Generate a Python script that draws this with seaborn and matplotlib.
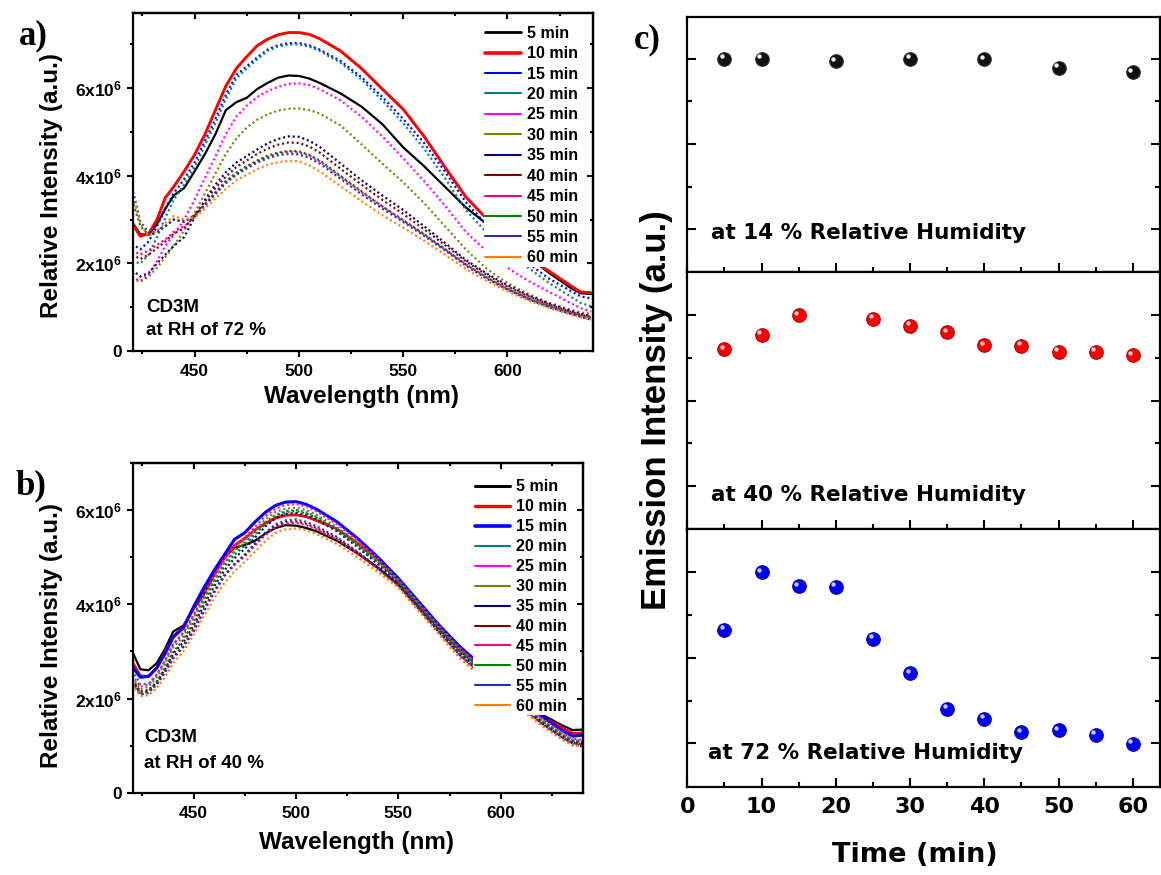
import numpy as np
import matplotlib
matplotlib.use("Agg")
import matplotlib.pyplot as plt
import seaborn as sns
from matplotlib.lines import Line2D
from matplotlib.ticker import MultipleLocator, FixedLocator, FuncFormatter
from matplotlib.transforms import ScaledTranslation

# ---------------- data ----------------
wavelength_nm = [420, 424, 428, 432, 436, 440, 445, 450, 455, 460, 465, 470, 475, 480, 485,
                 490, 495, 500, 505, 510, 520, 530, 540, 550, 560, 570, 580, 590, 600, 610,
                 620, 630, 635, 640]
time_labels = ['5 min', '10 min', '15 min', '20 min', '25 min', '30 min',
               '35 min', '40 min', '45 min', '50 min', '55 min', '60 min']
series_colors = ['#000000', '#FF0000', '#0000FF', '#008080', '#FF00FF', '#808000',
                 '#000080', '#800000', '#FF0080', '#008000', '#2B2BB8', '#FF8000']

# panel a: RH 72 %  (x 1e6)
rh72_5min = [2.95, 2.66, 2.66, 2.9, 3.25, 3.55, 3.72, 4.1, 4.5, 4.95, 5.5, 5.68, 5.78, 5.98, 6.12, 6.24, 6.29, 6.28, 6.22, 6.12, 5.88, 5.58, 5.18, 4.65, 4.22, 3.75, 3.28, 2.9, 2.52, 2.15, 1.78, 1.45, 1.32, 1.3]
rh72_10min = [2.92, 2.62, 2.68, 3.0, 3.5, 3.75, 4.1, 4.48, 4.95, 5.5, 6.05, 6.45, 6.72, 6.97, 7.12, 7.22, 7.27, 7.27, 7.23, 7.13, 6.85, 6.45, 5.98, 5.52, 4.9, 4.2, 3.52, 3.02, 2.55, 2.12, 1.82, 1.5, 1.35, 1.33]
rh72_15min = [2.45, 2.32, 2.5, 2.85, 3.25, 3.6, 3.92, 4.3, 4.8, 5.3, 5.85, 6.3, 6.5, 6.7, 6.88, 6.98, 7.03, 7.03, 6.98, 6.88, 6.62, 6.25, 5.8, 5.3, 4.75, 4.1, 3.4, 2.88, 2.4, 2.0, 1.65, 1.38, 1.25, 1.2]
rh72_20min = [2.05, 2.0, 2.2, 2.6, 3.05, 3.45, 3.8, 4.2, 4.7, 5.2, 5.75, 6.22, 6.45, 6.66, 6.85, 6.95, 7.0, 7.0, 6.95, 6.85, 6.58, 6.2, 5.72, 5.2, 4.62, 3.95, 3.22, 2.7, 2.25, 1.9, 1.55, 1.25, 1.1, 1.02]
rh72_25min = [1.7, 1.6, 1.75, 2.05, 2.4, 2.65, 3.0, 3.45, 3.95, 4.45, 4.95, 5.35, 5.6, 5.8, 5.93, 6.03, 6.1, 6.11, 6.07, 5.98, 5.72, 5.35, 4.9, 4.4, 3.88, 3.32, 2.72, 2.28, 1.9, 1.6, 1.35, 1.1, 0.98, 0.9]
rh72_30min = [1.65, 1.58, 1.7, 1.9, 2.15, 2.4, 2.75, 3.15, 3.6, 4.05, 4.5, 4.85, 5.1, 5.28, 5.4, 5.49, 5.53, 5.54, 5.5, 5.42, 5.15, 4.72, 4.28, 3.85, 3.38, 2.85, 2.32, 1.88, 1.55, 1.3, 1.1, 0.95, 0.88, 0.85]
rh72_35min = [1.85, 1.7, 1.78, 2.0, 2.2, 2.4, 2.6, 3.05, 3.45, 3.8, 4.08, 4.3, 4.45, 4.6, 4.74, 4.84, 4.9, 4.89, 4.8, 4.66, 4.28, 3.9, 3.55, 3.22, 2.85, 2.47, 2.08, 1.77, 1.5, 1.27, 1.08, 0.92, 0.85, 0.8]
rh72_40min = [2.2, 2.1, 2.2, 2.35, 2.5, 2.68, 2.8, 3.1, 3.42, 3.72, 3.98, 4.2, 4.35, 4.5, 4.62, 4.71, 4.76, 4.75, 4.67, 4.53, 4.16, 3.8, 3.45, 3.13, 2.78, 2.42, 2.05, 1.74, 1.47, 1.25, 1.06, 0.9, 0.83, 0.78]
rh72_45min = [2.3, 2.2, 2.3, 2.42, 2.55, 2.72, 2.85, 3.05, 3.35, 3.62, 3.87, 4.05, 4.2, 4.33, 4.44, 4.51, 4.55, 4.54, 4.46, 4.33, 3.98, 3.63, 3.3, 2.98, 2.66, 2.32, 1.98, 1.68, 1.42, 1.2, 1.03, 0.88, 0.82, 0.77]
rh72_50min = [3.45, 2.85, 2.65, 2.7, 2.85, 3.0, 2.95, 3.1, 3.35, 3.62, 3.88, 4.07, 4.22, 4.35, 4.46, 4.53, 4.57, 4.56, 4.48, 4.35, 4.0, 3.65, 3.3, 2.99, 2.67, 2.33, 1.98, 1.68, 1.42, 1.2, 1.02, 0.87, 0.8, 0.76]
rh72_55min = [3.75, 2.95, 2.7, 2.72, 2.85, 3.0, 2.95, 3.08, 3.32, 3.58, 3.83, 4.02, 4.17, 4.3, 4.4, 4.47, 4.5, 4.49, 4.41, 4.28, 3.93, 3.58, 3.25, 2.95, 2.63, 2.3, 1.95, 1.65, 1.4, 1.18, 1.0, 0.85, 0.78, 0.72]
rh72_60min = [3.62, 2.9, 2.62, 2.75, 2.92, 3.08, 3.0, 3.05, 3.25, 3.48, 3.7, 3.9, 4.02, 4.15, 4.25, 4.31, 4.34, 4.33, 4.24, 4.1, 3.76, 3.42, 3.1, 2.82, 2.52, 2.2, 1.87, 1.6, 1.36, 1.15, 0.98, 0.84, 0.77, 0.72]

# panel b: RH 40 %  (x 1e6)
rh40_5min = [3.0, 2.62, 2.6, 2.75, 3.05, 3.42, 3.55, 3.9, 4.22, 4.62, 5.0, 5.2, 5.26, 5.35, 5.5, 5.62, 5.68, 5.67, 5.62, 5.55, 5.35, 5.08, 4.78, 4.42, 3.95, 3.48, 3.02, 2.64, 2.28, 1.95, 1.66, 1.43, 1.33, 1.34]
rh40_10min = [2.78, 2.48, 2.47, 2.65, 2.98, 3.32, 3.52, 3.92, 4.3, 4.65, 4.98, 5.25, 5.4, 5.58, 5.72, 5.83, 5.89, 5.9, 5.86, 5.78, 5.6, 5.3, 4.95, 4.5, 4.02, 3.52, 3.05, 2.66, 2.3, 1.95, 1.62, 1.38, 1.26, 1.27]
rh40_15min = [2.68, 2.45, 2.47, 2.65, 2.95, 3.3, 3.5, 3.95, 4.35, 4.72, 5.05, 5.38, 5.52, 5.75, 5.95, 6.1, 6.17, 6.18, 6.12, 6.02, 5.75, 5.4, 5.0, 4.55, 4.05, 3.55, 3.1, 2.72, 2.35, 1.98, 1.62, 1.32, 1.2, 1.22]
rh40_20min = [2.6, 2.3, 2.32, 2.5, 2.8, 3.15, 3.38, 3.75, 4.15, 4.52, 4.86, 5.12, 5.3, 5.52, 5.74, 5.9, 5.98, 6.0, 5.95, 5.86, 5.6, 5.27, 4.9, 4.48, 3.98, 3.48, 3.02, 2.63, 2.25, 1.9, 1.54, 1.24, 1.12, 1.09]
rh40_25min = [2.5, 2.25, 2.3, 2.5, 2.8, 3.15, 3.4, 3.78, 4.2, 4.6, 4.95, 5.25, 5.42, 5.65, 5.87, 6.03, 6.11, 6.13, 6.08, 5.97, 5.7, 5.36, 4.97, 4.53, 4.03, 3.53, 3.07, 2.68, 2.3, 1.94, 1.58, 1.28, 1.15, 1.12]
rh40_30min = [2.45, 2.2, 2.25, 2.45, 2.75, 3.08, 3.32, 3.7, 4.12, 4.52, 4.88, 5.15, 5.35, 5.58, 5.8, 5.96, 6.03, 6.05, 6.0, 5.9, 5.64, 5.3, 4.92, 4.5, 4.0, 3.5, 3.04, 2.65, 2.27, 1.91, 1.55, 1.25, 1.13, 1.1]
rh40_35min = [2.4, 2.15, 2.18, 2.35, 2.62, 2.95, 3.2, 3.55, 3.98, 4.38, 4.72, 4.98, 5.18, 5.42, 5.65, 5.83, 5.92, 5.94, 5.89, 5.8, 5.55, 5.22, 4.85, 4.45, 3.95, 3.45, 2.98, 2.59, 2.21, 1.86, 1.5, 1.2, 1.08, 1.05]
rh40_40min = [2.38, 2.12, 2.15, 2.32, 2.58, 2.88, 3.12, 3.48, 3.9, 4.28, 4.62, 4.86, 5.05, 5.28, 5.5, 5.67, 5.74, 5.76, 5.71, 5.62, 5.4, 5.1, 4.76, 4.4, 3.9, 3.4, 2.92, 2.54, 2.17, 1.82, 1.47, 1.17, 1.05, 1.02]
rh40_45min = [2.36, 2.12, 2.14, 2.3, 2.56, 2.86, 3.1, 3.46, 3.88, 4.26, 4.6, 4.84, 5.02, 5.25, 5.47, 5.64, 5.71, 5.73, 5.68, 5.59, 5.37, 5.08, 4.74, 4.38, 3.88, 3.38, 2.9, 2.52, 2.15, 1.8, 1.45, 1.15, 1.03, 1.0]
rh40_50min = [2.35, 2.1, 2.15, 2.35, 2.65, 2.98, 3.25, 3.62, 4.05, 4.45, 4.8, 5.05, 5.25, 5.48, 5.7, 5.87, 5.96, 5.98, 5.93, 5.84, 5.58, 5.25, 4.88, 4.47, 3.97, 3.47, 3.0, 2.61, 2.23, 1.88, 1.52, 1.22, 1.1, 1.07]
rh40_55min = [2.3, 2.08, 2.12, 2.3, 2.55, 2.85, 3.1, 3.42, 3.85, 4.25, 4.6, 4.85, 5.05, 5.3, 5.52, 5.7, 5.78, 5.8, 5.75, 5.66, 5.43, 5.12, 4.78, 4.42, 3.92, 3.42, 2.94, 2.56, 2.18, 1.83, 1.48, 1.18, 1.06, 1.03]
rh40_60min = [2.3, 2.05, 2.07, 2.22, 2.45, 2.75, 3.0, 3.35, 3.75, 4.12, 4.45, 4.7, 4.9, 5.12, 5.34, 5.52, 5.59, 5.61, 5.57, 5.49, 5.28, 5.0, 4.68, 4.35, 3.85, 3.35, 2.85, 2.47, 2.1, 1.76, 1.42, 1.12, 1.0, 0.98]

# panel c: emission intensity (a.u.) vs time
time_rh14 = [5, 10, 20, 30, 40, 50, 60]
emission_rh14 = [3.0, 3.0, 2.97, 3.0, 2.99, 2.89, 2.84]
time_rh40 = [5, 10, 15, 25, 30, 35, 40, 45, 50, 55, 60]
emission_rh40 = [2.6, 2.77, 3.0, 2.96, 2.88, 2.8, 2.65, 2.64, 2.57, 2.57, 2.53]
time_rh72 = [5, 10, 15, 20, 25, 30, 35, 40, 45, 50, 55, 60]
emission_rh72 = [2.33, 3.0, 2.84, 2.83, 2.22, 1.82, 1.4, 1.29, 1.13, 1.15, 1.1, 0.99]

rh72_spectra = [rh72_5min, rh72_10min, rh72_15min, rh72_20min, rh72_25min, rh72_30min,
                rh72_35min, rh72_40min, rh72_45min, rh72_50min, rh72_55min, rh72_60min]
rh40_spectra = [rh40_5min, rh40_10min, rh40_15min, rh40_20min, rh40_25min, rh40_30min,
                rh40_35min, rh40_40min, rh40_45min, rh40_50min, rh40_55min, rh40_60min]

# ---------------- style ----------------
sns.set_theme(style="ticks")
plt.rcParams['font.family'] = ['Liberation Sans', 'DejaVu Sans']
plt.rcParams['font.weight'] = 'bold'
for key in ['text.color', 'axes.labelcolor', 'xtick.color', 'ytick.color', 'axes.edgecolor']:
    plt.rcParams[key] = 'black'
plt.rcParams['mathtext.fontset'] = 'custom'
plt.rcParams['mathtext.rm'] = 'Liberation Sans:bold'
plt.rcParams['mathtext.bf'] = 'Liberation Sans:bold'
plt.rcParams['mathtext.it'] = 'Liberation Sans:bold'

W, H = 1161, 875
fig = plt.figure(figsize=(W / 100, H / 100), dpi=100)
fig.patch.set_facecolor('white')


def px_axes(left, top, right, bottom):
    return fig.add_axes([left / W, 1 - bottom / H, (right - left) / W, (bottom - top) / H])


def ftext(x, y, s, **kw):
    fig.text(x / W, 1 - y / H, s, **kw)


def sci_fmt(v, pos):
    if abs(v) < 1:
        return '0'
    return '%dx10$^{%d}$' % (int(round(v / 1e6)), 6)


def style_spectrum(ax, xlim, ymax):
    ax.set_xlim(*xlim)
    ax.set_ylim(0, ymax)
    ax.xaxis.set_major_locator(MultipleLocator(50))
    ax.xaxis.set_minor_locator(MultipleLocator(25))
    ax.yaxis.set_major_locator(MultipleLocator(2e6))
    ax.yaxis.set_minor_locator(MultipleLocator(1e6))
    ax.yaxis.set_major_formatter(FuncFormatter(sci_fmt))
    ax.set_xlabel('')
    ax.set_ylabel('')
    ax.tick_params(which='both', direction='out', top=False, right=False, width=1.5,
                   labelsize=12.5, colors='black')
    ax.tick_params(axis='x', which='major', length=4.5, pad=5)
    ax.tick_params(axis='y', which='major', length=4.5, pad=3)
    ax.tick_params(which='minor', length=2.5)
    for s in ax.spines.values():
        s.set_linewidth(1.6)
        s.set_color('black')
        s.set_visible(True)
    secx = ax.secondary_xaxis('top')
    secx.xaxis.set_major_locator(MultipleLocator(50))
    secx.xaxis.set_minor_locator(MultipleLocator(25))
    secx.tick_params(which='both', direction='in', labeltop=False, width=1.5, length=4.5)
    secx.tick_params(which='minor', length=2.5)
    secx.spines['top'].set_linewidth(1.6)
    secy = ax.secondary_yaxis('right')
    secy.yaxis.set_major_locator(MultipleLocator(2e6))
    secy.yaxis.set_minor_locator(MultipleLocator(1e6))
    secy.tick_params(which='both', direction='in', labelright=False, width=1.5, length=4.5)
    secy.tick_params(which='minor', length=2.5)
    secy.spines['right'].set_linewidth(1.6)


def draw_spectra(ax, spectra, n_solid, solid_widths, legend_widths, bbox, lspacing):
    x = np.array(wavelength_nm, dtype=float)
    for i, vals in enumerate(spectra):
        y = np.array(vals) * 1e6
        if i < n_solid:
            sns.lineplot(x=x, y=y, ax=ax, color=series_colors[i], lw=solid_widths[i],
                         linestyle='-', estimator=None, sort=False, legend=False,
                         zorder=2 + i * 0.01)
        else:
            sns.lineplot(x=x, y=y, ax=ax, color=series_colors[i], lw=1.6,
                         linestyle=(0, (0.9, 1.3)), estimator=None, sort=False,
                         legend=False, zorder=2 + i * 0.01)
    handles = [Line2D([], [], color=series_colors[i], lw=legend_widths[i])
               for i in range(len(spectra))]
    leg = ax.legend(handles, time_labels, loc='upper right', bbox_to_anchor=bbox,
                    frameon=True, facecolor='white', edgecolor='none', framealpha=1,
                    fontsize=11.5, labelspacing=lspacing, handlelength=2.2,
                    handletextpad=0.4, borderpad=0.1, borderaxespad=0.0)
    leg.get_frame().set_linewidth(0)
    for t in leg.get_texts():
        t.set_fontweight('bold')
        t.set_color('black')


# ---------------- panel a ----------------
ax_a = px_axes(132.6, 13.3, 592.6, 351)
draw_spectra(ax_a, rh72_spectra, 2, [1.6, 2.1], [2.0, 2.6] + [1.5] * 10,
             (0.972, 0.968), 0.34)
style_spectrum(ax_a, (420.3, 640.8), 7.71e6)
ax_a.text(0.03, 0.13, 'CD3M', transform=ax_a.transAxes, fontsize=13.5, fontweight='bold',
          va='center', ha='left')
ax_a.text(0.03, 0.06, 'at RH of 72 %', transform=ax_a.transAxes, fontsize=13.5,
          fontweight='bold', va='center', ha='left')

# ---------------- panel b ----------------
ax_b = px_axes(132.6, 463, 582.9, 792.7)
draw_spectra(ax_b, rh40_spectra, 3, [1.6, 2.0, 2.2], [2.2, 2.4, 2.6] + [1.5] * 9,
             (0.969, 0.955), 0.31)
style_spectrum(ax_b, (420.2, 640.1), 7.0e6)
ax_b.text(0.025, 0.167, 'CD3M', transform=ax_b.transAxes, fontsize=13.5, fontweight='bold',
          va='center', ha='left')
ax_b.text(0.025, 0.09, 'at RH of 40 %', transform=ax_b.transAxes, fontsize=13.5,
          fontweight='bold', va='center', ha='left')

# axis labels a/b
ftext(52, 186, 'Relative Intensity (a.u.)', rotation=90, fontsize=17.5, fontweight='bold',
      ha='center', va='center')
ftext(362, 397, 'Wavelength (nm)', fontsize=17.5, fontweight='bold', ha='center', va='center')
ftext(52, 636, 'Relative Intensity (a.u.)', rotation=90, fontsize=17.5, fontweight='bold',
      ha='center', va='center')
ftext(357, 843, 'Wavelength (nm)', fontsize=17.5, fontweight='bold', ha='center', va='center')

# ---------------- panel c ----------------
ax_c1 = px_axes(687.3, 17, 1160.3, 272)
ax_c2 = px_axes(687.3, 272, 1160.3, 528.5)
ax_c3 = px_axes(687.3, 528.5, 1160.3, 787)

panels_c = [
    (ax_c1, time_rh14, emission_rh14, (0.501, 3.487), '#111111', '#2a2a2a', '#f2f2f2',
     'at 14 % Relative Humidity', 0.05, 0.153),
    (ax_c2, time_rh40, emission_rh40, (0.504, 3.507), '#ff0000', '#b00000', '#ffc8c8',
     'at 40 % Relative Humidity', 0.05, 0.131),
    (ax_c3, time_rh72, emission_rh72, (0.488, 3.515), '#0000ff', '#0000a0', '#c8c8ff',
     'at 72 % Relative Humidity', 0.044, 0.132),
]
hl_offset = ScaledTranslation(-1.7 / 72, 1.9 / 72, fig.dpi_scale_trans)
for ax, t, v, ylim, col, edge, hl, label, tx, ty in panels_c:
    sns.scatterplot(x=t, y=v, ax=ax, s=95, color=col, edgecolor=edge, linewidth=0.8,
                    zorder=3, legend=False)
    ax.scatter(t, v, s=10, color=hl, linewidths=0, zorder=4,
               transform=ax.transData + hl_offset)
    ax.set_xlim(0, 63.7)
    ax.set_ylim(*ylim)
    ax.xaxis.set_major_locator(MultipleLocator(10))
    ax.xaxis.set_minor_locator(FixedLocator([5, 15, 25, 35, 45, 55]))
    ax.yaxis.set_major_locator(FixedLocator([1, 2, 3]))
    ax.yaxis.set_minor_locator(FixedLocator([1.5, 2.5]))
    ax.set_xlabel('')
    ax.set_ylabel('')
    ax.tick_params(which='both', direction='in', left=True, right=True, bottom=True,
                   top=False, labelleft=False, width=1.5, colors='black')
    ax.tick_params(which='major', length=6.5)
    ax.tick_params(which='minor', length=3.5)
    for s in ax.spines.values():
        s.set_linewidth(1.6)
        s.set_color('black')
        s.set_visible(True)
    ax.text(tx, ty, label, transform=ax.transAxes, fontsize=15.5, fontweight='bold',
            family='DejaVu Sans', va='center', ha='left')
    if ax is not ax_c3:
        ax.tick_params(labelbottom=False)

ax_c3.tick_params(axis='x', labelsize=16, pad=7, labelfontfamily='DejaVu Sans')

ftext(915, 855, 'Time (min)', fontsize=19.5, fontweight='bold', family='DejaVu Sans',
      ha='center', va='center')
ftext(656, 410, 'Emission Intensity (a.u.)', rotation=90, fontsize=25, fontweight='bold',
      ha='center', va='center')

# panel letters
ftext(33, 36, 'a)', fontsize=25, fontweight='bold', family='Liberation Serif',
      ha='center', va='center')
ftext(31, 486, 'b)', fontsize=25, fontweight='bold', family='Liberation Serif',
      ha='center', va='center')
ftext(647, 40, 'c)', fontsize=25, fontweight='bold', family='Liberation Serif',
      ha='center', va='center')

fig.savefig('out.png', dpi=100, facecolor='white')
